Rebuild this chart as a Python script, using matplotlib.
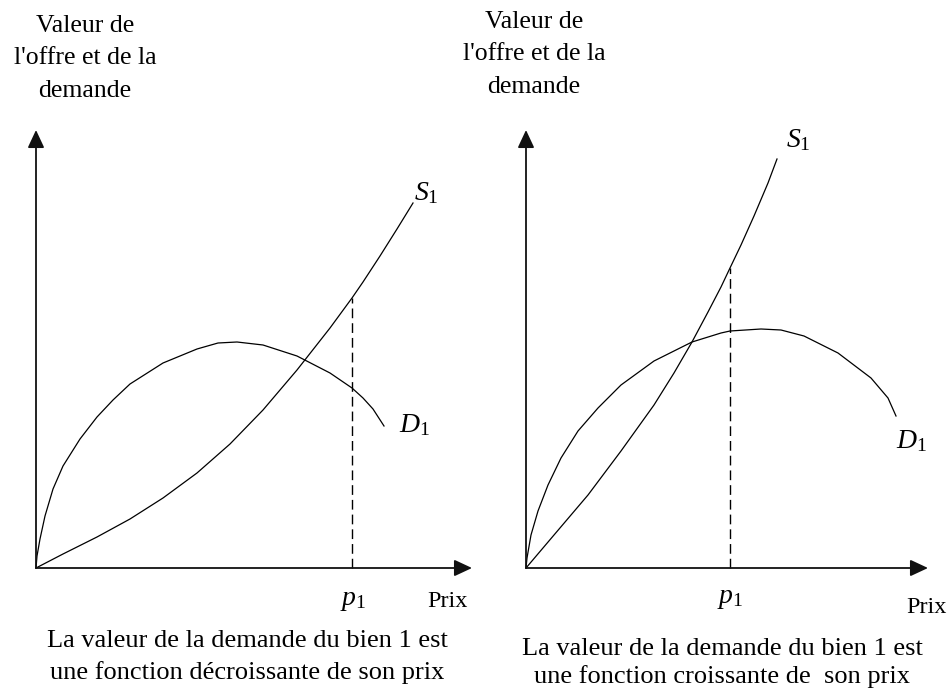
""" Offre et demande : deux cas de valeur de la demande
"""
import matplotlib
matplotlib.use('Agg')
import matplotlib.pyplot as plt

plt.rcParams['font.family'] = ['Liberation Serif', 'DejaVu Serif']
plt.rcParams['mathtext.fontset'] = 'custom'
plt.rcParams['mathtext.rm'] = 'Liberation Serif'
plt.rcParams['mathtext.it'] = 'Liberation Serif:italic'

# curves (price, value), one pair of arrays per curve
s_left_x = [0, 27, 61, 94, 127, 161, 194, 227, 261, 294, 316, 327, 344, 361, 377]
s_left_y = [0, 14, 31, 49, 70, 95, 124, 158, 198, 240, 270, 286, 312, 339, 365]
d_left_x = [0, 1, 4, 9, 17, 27, 44, 61, 77, 94, 127, 161, 182, 201,
            227, 261, 294, 316, 327, 337, 348]
d_left_y = [0, 12, 29, 52, 79, 102, 129, 151, 168, 184, 205, 219, 225, 226,
            223, 212, 195, 180, 170, 159, 142]
p1_left = 316

s_right_x = [0, 28, 62, 95, 128, 148, 166, 182, 195, 204, 215, 228, 242, 251]
s_right_y = [0, 33, 73, 117, 163, 195, 226, 256, 281, 300, 323, 352, 385, 409]
d_right_x = [0, 1, 5, 12, 22, 35, 52, 72, 95, 128, 166, 195, 204, 235,
             255, 278, 312, 345, 362, 370]
d_right_y = [0, 10, 33, 57, 83, 110, 137, 160, 183, 207, 226, 235, 237, 239,
             238, 232, 215, 190, 170, 152]
p1_right = 204

y_title = ['Valeur de', "l'offre et de la", 'demande']
captions_left = ['La valeur de la demande du bien 1 est',
                 'une fonction décroissante de son prix']
captions_right = ['La valeur de la demande du bien 1 est',
                  'une fonction croissante de  son prix']

# fig params
W, H = 949, 690
fsize_title = 18.5
fsize_caption = 19
fsize_prix = 17.5
fsize_curve = 20
lw_axis = 1.3
lw_curve = 0.9

fig = plt.figure(figsize=(W / 100, H / 100), dpi=100)


def px_text(x, y, s, **kw):
    # place a text by pixel position (y measured from the top)
    fig.text(x / W, 1 - y / H, s, **kw)


def panel(ox, oy, x_len, y_len, sx, sy, dx, dy, p1):
    ax = fig.add_axes([ox / W, (H - oy) / H, x_len / W, y_len / H])
    ax.set_xlim(0, x_len)
    ax.set_ylim(0, y_len)
    ax.axis('off')
    arrow = dict(arrowstyle='-|>,head_length=0.9,head_width=0.42',
                 mutation_scale=12, lw=lw_axis, color='#111111',
                 shrinkA=0, shrinkB=0)
    ax.annotate('', xy=(x_len, 0), xytext=(0, 0), arrowprops=arrow,
                annotation_clip=False)
    ax.annotate('', xy=(0, y_len), xytext=(0, 0), arrowprops=arrow,
                annotation_clip=False)
    ax.plot(sx, sy, color='black', lw=lw_curve, clip_on=False,
            solid_joinstyle='round')
    ax.plot(dx, dy, color='black', lw=lw_curve, clip_on=False,
            solid_joinstyle='round')
    # dashed line from the price up to the supply curve
    top = sy[sx.index(p1)]
    ax.plot([p1, p1], [0, top], color='black', lw=1.0,
            dashes=(7, 3.6), clip_on=False)
    return ax


panel(36, 568, 436, 438, s_left_x, s_left_y, d_left_x, d_left_y, p1_left)
panel(526, 568, 402, 438, s_right_x, s_right_y, d_right_x, d_right_y, p1_right)

# y axis titles
for i, line in enumerate(y_title):
    px_text(85, 32 + 32.5 * i, line, fontsize=fsize_title,
            ha='center', va='baseline')
    px_text(534, 28 + 32.5 * i, line, fontsize=fsize_title,
            ha='center', va='baseline')

# curve labels
px_text(414, 200, '$S_1$', fontsize=fsize_curve, ha='left', va='baseline')
px_text(399, 432, '$D_1$', fontsize=fsize_curve, ha='left', va='baseline')
px_text(786, 147, '$S_1$', fontsize=fsize_curve, ha='left', va='baseline')
px_text(896, 448, '$D_1$', fontsize=fsize_curve, ha='left', va='baseline')

# price labels
px_text(353, 605, '$p_1$', fontsize=fsize_curve, ha='center', va='baseline')
px_text(447, 607, 'Prix', fontsize=fsize_prix, ha='center', va='baseline')
px_text(730, 603, '$p_1$', fontsize=fsize_curve, ha='center', va='baseline')
px_text(926, 613, 'Prix', fontsize=fsize_prix, ha='center', va='baseline')

# captions
for i, line in enumerate(captions_left):
    px_text(247, 647 + 32 * i, line, fontsize=fsize_caption,
            ha='center', va='baseline')
for i, line in enumerate(captions_right):
    px_text(722, 655 + 28 * i, line, fontsize=fsize_caption,
            ha='center', va='baseline')

fig.savefig('out.png', dpi=100)
